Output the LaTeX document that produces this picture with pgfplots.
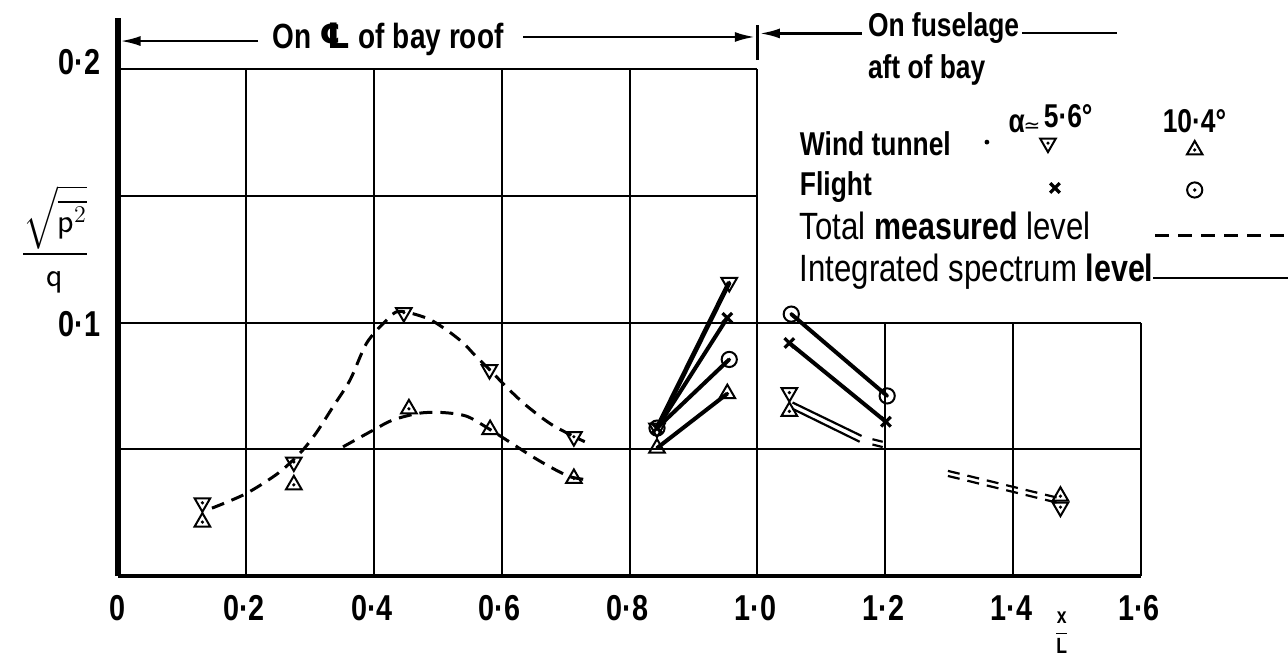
\documentclass[border=0pt]{standalone}
\usepackage{amsmath}
\usepackage{fontspec}
\usepackage{pgfplots}
\pgfplotsset{compat=1.18}
\usetikzlibrary{arrows.meta}
\setmainfont{Liberation Sans}
\newfontfamily\lett[FakeStretch=0.8]{Liberation Sans}
\newfontfamily\typed[FakeStretch=0.82]{Liberation Sans}
\newfontfamily\symb{DejaVu Sans}

% open triangles with a centre dot, and a dotted circle
\pgfdeclareplotmark{tridown}{%
  \pgfpathmoveto{\pgfqpoint{0pt}{-\pgfplotmarksize}}%
  \pgfpathlineto{\pgfqpoint{0.866\pgfplotmarksize}{0.5\pgfplotmarksize}}%
  \pgfpathlineto{\pgfqpoint{-0.866\pgfplotmarksize}{0.5\pgfplotmarksize}}%
  \pgfpathclose\pgfusepathqstroke
  \pgfpathcircle{\pgfpointorigin}{0.2\pgfplotmarksize}\pgfusepathqfill}
\pgfdeclareplotmark{triup}{%
  \pgfpathmoveto{\pgfqpoint{0pt}{\pgfplotmarksize}}%
  \pgfpathlineto{\pgfqpoint{0.866\pgfplotmarksize}{-0.5\pgfplotmarksize}}%
  \pgfpathlineto{\pgfqpoint{-0.866\pgfplotmarksize}{-0.5\pgfplotmarksize}}%
  \pgfpathclose\pgfusepathqstroke
  \pgfpathcircle{\pgfpointorigin}{0.2\pgfplotmarksize}\pgfusepathqfill}
\pgfdeclareplotmark{odot}{%
  \pgfpathcircle{\pgfpointorigin}{\pgfplotmarksize}\pgfusepathqstroke
  \pgfpathcircle{\pgfpointorigin}{0.25\pgfplotmarksize}\pgfusepathqfill}

\tikzset{
  gridline/.style={line width=1pt},
  txt/.style={inner sep=0pt, outer sep=0pt},
  tl/.style={txt, anchor=base, font=\lett\bfseries\fontsize{18}{18}\selectfont},
  lt/.style={txt, anchor=base west, font=\lett\bfseries\fontsize{16.5}{16.5}\selectfont},
  ty/.style={txt, anchor=base west, font=\typed\fontsize{19}{19}\selectfont},
}
\pgfplotsset{
  wt56/.style={mark=tridown, mark size=4.5pt},
  wt104/.style={mark=triup, mark size=4.5pt},
  fl56/.style={mark=x, mark size=3.4pt, mark options={solid, line width=1.6pt}},
  fl104/.style={mark=odot, mark size=3.8pt},
  total/.style={line width=1.5pt, dash pattern=on 6.5pt off 4pt, smooth, no marks},
  integ/.style={line width=2pt, solid},
}

\begin{document}
\begin{tikzpicture}
\path[use as bounding box] (-59pt,-42pt) rectangle (585pt,288pt);
\begin{axis}[
  at={(0,0)}, anchor=south west,
  scale only axis, width=511.5pt, height=253.3pt,
  xmin=0, xmax=1.6, ymin=0, ymax=0.2,
  hide axis, clip=false,
  every axis plot/.append style={black, mark options={solid, line width=1pt}},
]
% grid
\pgfplotsinvokeforeach{0.2,0.4,0.6,0.8,1.0}{\draw[gridline] (axis cs:#1,0) -- (axis cs:#1,0.2);}
\pgfplotsinvokeforeach{1.2,1.4,1.6}{\draw[gridline] (axis cs:#1,0) -- (axis cs:#1,0.1);}
\pgfplotsinvokeforeach{0.05,0.1}{\draw[gridline] (axis cs:0,#1) -- (axis cs:1.6,#1);}
\pgfplotsinvokeforeach{0.15,0.2}{\draw[gridline] (axis cs:0,#1) -- (axis cs:1.0,#1);}
\draw[line width=2pt] (axis cs:0,0) -- (axis cs:1.6,0);
\draw[line width=3pt] (axis cs:0,0) -- (axis cs:0,0.2203);

% tick labels
\node[tl] at (axis cs:0,-0.0174) {0};
\node[tl] at (axis cs:0.197,-0.0174) {0·2};
\node[tl] at (axis cs:0.397,-0.0174) {0·4};
\node[tl] at (axis cs:0.597,-0.0174) {0·6};
\node[tl] at (axis cs:0.797,-0.0174) {0·8};
\node[tl] at (axis cs:0.997,-0.0174) {1·0};
\node[tl] at (axis cs:1.197,-0.0174) {1·2};
\node[tl] at (axis cs:1.397,-0.0174) {1·4};
\node[tl] at (axis cs:1.597,-0.0174) {1·6};
\node[tl, anchor=base east] at (axis cs:-0.028,0.1978) {0·2};
\node[tl, anchor=base east] at (axis cs:-0.028,0.0944) {0·1};

% axis titles
\node[txt] at (axis cs:-0.0985,0.1330)
  {\fontsize{17}{19}\selectfont$\dfrac{\sqrt{\overline{\mathsf{p}^{2}}}}{\mathsf{q}}$};
\node[txt] at (axis cs:1.476,-0.0225)
  {\fontsize{11}{13}\selectfont$\dfrac{\mbox{\lett\bfseries x}}{\mbox{\lett\bfseries L}}$};

% regions along the fuselage
\node[lt, font=\lett\bfseries\fontsize{17.5}{17.5}\selectfont] at (axis cs:0.2424,0.2084) {On {\symb ℄} of bay roof};
\draw[line width=1.2pt, -{Latex[length=10pt,width=5pt]}] (axis cs:0.219,0.2112) -- (axis cs:0.004,0.2112);
\draw[line width=1.2pt, -{Latex[length=10pt,width=5pt]}] (axis cs:0.6335,0.2128) -- (axis cs:0.996,0.2128);
\draw[line width=1.2pt, -{Latex[length=10pt,width=5pt]}] (axis cs:1.1636,0.2142) -- (axis cs:1.004,0.2142);
\draw[line width=1.2pt] (axis cs:1.0,0.2037) -- (axis cs:1.0,0.2175);
\draw[line width=1.2pt] (axis cs:1.4138,0.2144) -- (axis cs:1.5624,0.2144);
\node[lt] at (axis cs:1.173,0.2128) {On fuselage};
\node[lt] at (axis cs:1.173,0.1966) {aft of bay};

% key
\node[lt] at (axis cs:1.0666,0.1662) {Wind tunnel};
\fill (axis cs:1.359,0.1713) circle (1.2pt);
\node[lt] at (axis cs:1.393,0.1749) {α};
\node[txt, anchor=base] at (axis cs:1.4295,0.1752) {\symb\fontsize{10}{10}\selectfont ≃};
\node[lt] at (axis cs:1.448,0.1769) {5·6°};
\node[lt] at (axis cs:1.634,0.1749) {10·4°};
\node[lt] at (axis cs:1.0666,0.1504) {Flight};
\addplot[only marks, wt56, forget plot] coordinates {(1.4545,0.1709)};
\addplot[only marks, wt104, forget plot] coordinates {(1.684,0.1682)};
\addplot[only marks, fl56, forget plot] coordinates {(1.4654,0.1532)};
\addplot[only marks, fl104, forget plot] coordinates {(1.684,0.1524)};
\node[ty] at (axis cs:1.0666,0.1327) {Total {\lett\bfseries measured} level};
\node[ty] at (axis cs:1.0666,0.1161) {Integrated spectrum {\lett\bfseries level}};
\draw[line width=1.5pt, dash pattern=on 7pt off 4.5pt] (axis cs:1.622,0.1346) -- (axis cs:1.830,0.1346);
\draw[line width=1.2pt] (axis cs:1.619,0.1176) -- (axis cs:1.830,0.1176);

% ---- on centre line of bay roof: wind tunnel, total measured level ----
\addplot[total] coordinates {
  (0.147,0.0268)(0.200,0.0325)(0.250,0.0405)(0.285,0.0486)(0.310,0.0565)
  (0.336,0.0667)(0.363,0.0774)(0.389,0.0920)(0.420,0.1010)(0.440,0.1045)
  (0.483,0.1018)(0.514,0.0971)(0.540,0.0920)(0.558,0.0872)(0.581,0.0815)
  (0.610,0.0740)(0.640,0.0670)(0.680,0.0595)(0.730,0.0530)};
\addplot[total] coordinates {
  (0.352,0.0510)(0.400,0.0577)(0.430,0.0616)(0.472,0.0643)(0.510,0.0645)
  (0.546,0.0630)(0.582,0.0578)(0.615,0.0525)(0.649,0.0470)(0.680,0.0425)
  (0.707,0.0392)(0.733,0.0380)};
\addplot[only marks, wt56] coordinates {
  (0.132,0.0289)(0.275,0.0450)(0.447,0.1040)(0.581,0.0815)(0.713,0.0550)};
\addplot[only marks, wt104] coordinates {
  (0.132,0.0213)(0.275,0.0360)(0.455,0.0660)(0.582,0.0578)(0.713,0.0385)};

% ---- rear of bay: integrated spectrum level ----
\addplot[integ, line width=2.4pt, wt56] coordinates {(0.843,0.0584)(0.956,0.1159)};
\addplot[integ, fl56] coordinates {(0.843,0.0584)(0.953,0.1019)};
\addplot[integ, fl104] coordinates {(0.843,0.0584)(0.956,0.0855)};
\addplot[integ, wt104] coordinates {(0.843,0.0505)(0.953,0.0720)};

% ---- on fuselage aft of bay ----
\addplot[integ, fl104] coordinates {(1.053,0.1034)(1.203,0.0711)};
\addplot[integ, fl56] coordinates {(1.050,0.0920)(1.201,0.0609)};
\addplot[line width=1.1pt, no marks] coordinates {(1.055,0.0685)(1.163,0.0553)};
\addplot[line width=1.1pt, no marks] coordinates {(1.055,0.0660)(1.160,0.0530)};
\addplot[line width=1.1pt, no marks] coordinates {(1.180,0.0540)(1.196,0.0530)};
\addplot[line width=1.1pt, no marks] coordinates {(1.180,0.0519)(1.196,0.0509)};
\addplot[only marks, wt56] coordinates {(1.050,0.0724)};
\addplot[only marks, wt104] coordinates {(1.050,0.0650)};
\addplot[line width=1.1pt, dash pattern=on 6pt off 4pt, no marks] coordinates {(1.298,0.0415)(1.468,0.0310)};
\addplot[line width=1.1pt, dash pattern=on 6pt off 4pt, no marks] coordinates {(1.298,0.0395)(1.468,0.0290)};
\addplot[only marks, wt104] coordinates {(1.474,0.0315)};
\addplot[only marks, wt56] coordinates {(1.474,0.0272)};
\end{axis}
\end{tikzpicture}
\end{document}
